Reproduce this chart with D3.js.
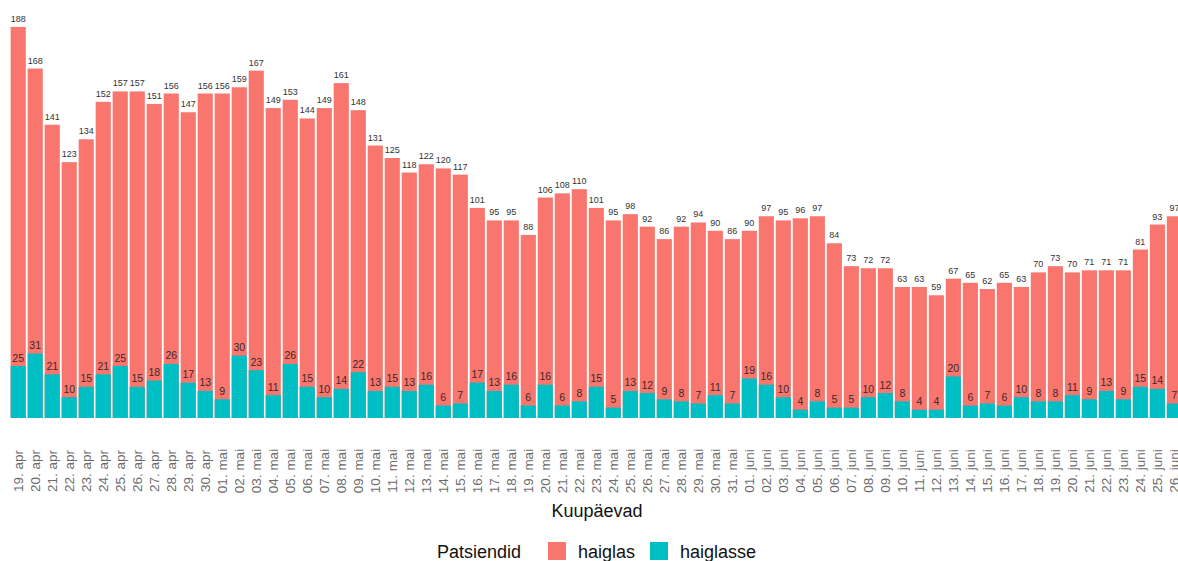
<!DOCTYPE html>
<html>
<head>
<meta charset="utf-8">
<script src="https://cdn.jsdelivr.net/npm/d3@7"></script>
<style>
  body { margin: 0; background: #fff; }
  svg { display: block; font-family: "Liberation Sans", Arial, sans-serif; }
</style>
</head>
<body>
<div id="chart"></div>
<script>
// kuupäevad (x telje sildid)
const kuupaevad = [
  "19. apr", "20. apr", "21. apr", "22. apr", "23. apr", "24. apr", "25. apr", "26. apr",
  "27. apr", "28. apr", "29. apr", "30. apr",
  "01. mai", "02. mai", "03. mai", "04. mai", "05. mai", "06. mai", "07. mai", "08. mai",
  "09. mai", "10. mai", "11. mai", "12. mai", "13. mai", "14. mai", "15. mai", "16. mai",
  "17. mai", "18. mai", "19. mai", "20. mai", "21. mai", "22. mai", "23. mai", "24. mai",
  "25. mai", "26. mai", "27. mai", "28. mai", "29. mai", "30. mai", "31. mai",
  "01. juni", "02. juni", "03. juni", "04. juni", "05. juni", "06. juni", "07. juni",
  "08. juni", "09. juni", "10. juni", "11. juni", "12. juni", "13. juni", "14. juni",
  "15. juni", "16. juni", "17. juni", "18. juni", "19. juni", "20. juni", "21. juni",
  "22. juni", "23. juni", "24. juni", "25. juni", "26. juni"
];

// patsiendid haiglas
const haiglas = [
  188, 168, 141, 123, 134, 152, 157, 157, 151, 156, 147, 156,
  156, 159, 167, 149, 153, 144, 149, 161, 148, 131, 125, 118, 122, 120, 117, 101,
  95, 95, 88, 106, 108, 110, 101, 95, 98, 92, 86, 92, 94, 90, 86,
  90, 97, 95, 96, 97, 84, 73, 72, 72, 63, 63, 59, 67, 65, 62, 65, 63, 70, 73, 70,
  71, 71, 71, 81, 93, 97
];

// patsiendid haiglasse
const haiglasse = [
  25, 31, 21, 10, 15, 21, 25, 15, 18, 26, 17, 13,
  9, 30, 23, 11, 26, 15, 10, 14, 22, 13, 15, 13, 16, 6, 7, 17,
  13, 16, 6, 16, 6, 8, 15, 5, 13, 12, 9, 8, 7, 11, 7,
  19, 16, 10, 4, 8, 5, 5, 10, 12, 8, 4, 4, 20, 6, 7, 6, 10, 8, 8, 11,
  9, 13, 9, 15, 14, 7
];

const legendLabels = ["haiglas", "haiglasse"];
const colors = ["#F8766D", "#00BFC4"];

const width = 1178, height = 561;
const baseY = 418;

const svg = d3.select("#chart")
  .append("svg")
  .attr("width", width)
  .attr("height", height);

const data = kuupaevad.map((d, i) => ({ date: d, total: haiglas[i], inn: haiglasse[i] }));

// x skaala - viimane tulp jääb pildist osaliselt välja
const step = 17;
const x = d3.scaleBand()
  .domain(kuupaevad)
  .range([9.8, 9.8 + step * kuupaevad.length])
  .paddingInner(0.11)
  .paddingOuter(0.05);

const y = d3.scaleLinear()
  .domain([0, 200])
  .range([baseY, baseY - 2.08 * 200]);

// haiglas tulbad
svg.append("g")
  .selectAll("rect")
  .data(data)
  .enter()
  .append("rect")
  .attr("x", d => x(d.date))
  .attr("y", d => y(d.total))
  .attr("width", x.bandwidth())
  .attr("height", d => y(0) - y(d.total))
  .attr("fill", colors[0]);

// haiglasse tulbad
svg.append("g")
  .selectAll("rect")
  .data(data)
  .enter()
  .append("rect")
  .attr("x", d => x(d.date))
  .attr("y", d => y(d.inn))
  .attr("width", x.bandwidth())
  .attr("height", d => y(0) - y(d.inn))
  .attr("fill", colors[1]);

// sildid tulpade kohal
svg.append("g")
  .selectAll("text")
  .data(data)
  .enter()
  .append("text")
  .attr("x", d => x(d.date) + x.bandwidth() / 2)
  .attr("y", d => y(d.total) - 5)
  .attr("text-anchor", "middle")
  .attr("font-size", "9px")
  .attr("fill", "#333")
  .text(d => d.total);

svg.append("g")
  .selectAll("text")
  .data(data)
  .enter()
  .append("text")
  .attr("x", d => x(d.date) + x.bandwidth() / 2)
  .attr("y", d => y(d.inn) - 4.5)
  .attr("text-anchor", "middle")
  .attr("font-size", "10.5px")
  .attr("fill", "#3a2a2a")
  .text(d => d.inn);

// x telg
const xAxis = svg.append("g")
  .attr("transform", "translate(0," + baseY + ")")
  .call(d3.axisBottom(x).tickSize(0).tickPadding(0));
xAxis.select(".domain").remove();
xAxis.selectAll("text")
  .attr("transform", "translate(0,53) rotate(-90)")
  .attr("x", 0)
  .attr("y", 0)
  .attr("dy", "0.35em")
  .attr("text-anchor", "middle")
  .attr("font-size", "13.5px")
  .attr("font-family", "'Liberation Sans', Arial, sans-serif")
  .attr("fill", "#6b6b6b");

svg.append("text")
  .attr("x", 597)
  .attr("y", 517)
  .attr("text-anchor", "middle")
  .attr("font-size", "18px")
  .attr("fill", "#111")
  .text("Kuupäevad");

// legend
const legend = svg.append("g").attr("transform", "translate(437,0)");
legend.append("text")
  .attr("x", 0)
  .attr("y", 558)
  .attr("font-size", "18px")
  .attr("fill", "#111")
  .text("Patsiendid");

const legendX = [111, 213];
legendLabels.forEach((lab, i) => {
  legend.append("rect")
    .attr("x", legendX[i])
    .attr("y", 542)
    .attr("width", 18)
    .attr("height", 18)
    .attr("fill", colors[i]);
  legend.append("text")
    .attr("x", legendX[i] + 30)
    .attr("y", 558)
    .attr("font-size", "18px")
    .attr("fill", "#111")
    .text(lab);
});
</script>
</body>
</html>
